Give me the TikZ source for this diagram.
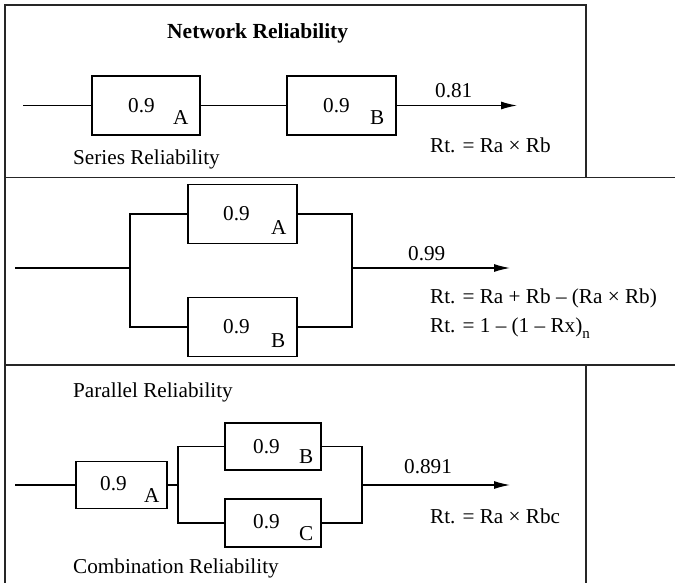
\documentclass[tikz,border=0pt]{standalone}
\usepackage{fontspec}
\setmainfont{Liberation Serif}
\usetikzlibrary{arrows.meta}
\begin{document}
\begin{tikzpicture}[x=1pt,y=-1pt,
  blk/.style={draw, line width=1.2pt, inner sep=0pt},
  txt/.style={font=\fontsize{21.2}{24}\selectfont, inner sep=0pt, anchor=base west},
  ttl/.style={font=\fontsize{21.5}{24}\selectfont\bfseries, inner sep=0pt, anchor=base west},
  wire/.style={line width=1.2pt},
  arr/.style={wire, -{Latex[length=16pt,width=8pt]}},
  frm/.style={line width=1.8pt, draw=black!85}]
\useasboundingbox (0,0) rectangle (675,583);
% frames
\draw[frm] (5,583) -- (5,5) -- (586,5) -- (586,177.5);
\draw[frm] (5,177.5) -- (675,177.5);
\draw[frm] (5,365) -- (675,365);
\draw[frm] (586,365) -- (586,583);

% ---------- Series ----------
\node[ttl] (title) at (167,39) {Network Reliability};
\node[blk, minimum width=108pt, minimum height=59pt] (sA) at (146,105.5) {};
\node[blk, minimum width=109pt, minimum height=59pt] (sB) at (341.5,105.5) {};
\node[txt] (sAv) at (128,113) {0.9};
\node[txt] (sAl) at (173,125) {A};
\node[txt] (sBv) at (323,113) {0.9};
\node[txt] (sBl) at (370,125) {B};
\coordinate (sin) at (23,105.5);
\coordinate (sout) at (517,105.5);
\draw[wire] (sin) -- (sA.west);
\draw[wire] (sA.east) -- (sB.west);
\draw[arr] (sB.east) -- (sout);
\node[txt] (sres) at (435,98) {0.81};
\node[txt] (sf) at (430,153) {Rt. = Ra × Rb};
\node[txt] (sname) at (73,165) {Series Reliability};

% ---------- Parallel ----------
\node[blk, minimum width=109pt, minimum height=59pt] (pA) at (242.5,214) {};
\node[blk, minimum width=109pt, minimum height=59pt] (pB) at (242.5,327) {};
\node[txt] (pAv) at (223,220) {0.9};
\node[txt] (pAl) at (271,234) {A};
\node[txt] (pBv) at (223,333) {0.9};
\node[txt] (pBl) at (271,347) {B};
\coordinate (pin) at (15,268);
\coordinate (pj1) at (130,268);
\coordinate (pj2) at (352,268);
\coordinate (pout) at (510,268);
\draw[wire] (pin) -- (pj1);
\draw[wire] (pA.west) -| (pj1) |- (pB.west);
\draw[wire] (pA.east) -| (pj2) |- (pB.east);
\draw[arr] (pj2) -- (pout);
\node[txt] (pres) at (408,260) {0.99};
\node[txt] (pf1) at (430,303) {Rt. = Ra + Rb – (Ra × Rb)};
\node[txt] (pf2) at (430,332) {Rt. = 1 – (1 – Rx)\raisebox{-0.3em}{\fontsize{15}{17}\selectfont n}};
\node[txt] (pname) at (73,397) {Parallel Reliability};

% ---------- Combination ----------
\node[blk, minimum width=91pt, minimum height=47pt] (cA) at (121.5,485) {};
\node[blk, minimum width=96pt, minimum height=47pt] (cB) at (273,446.5) {};
\node[blk, minimum width=96pt, minimum height=48pt] (cC) at (273,523) {};
\node[txt] (cAv) at (100,490) {0.9};
\node[txt] (cAl) at (144,502) {A};
\node[txt] (cBv) at (253,453) {0.9};
\node[txt] (cBl) at (299,463) {B};
\node[txt] (cCv) at (253,528) {0.9};
\node[txt] (cCl) at (299,540) {C};
\coordinate (cin) at (15,485);
\coordinate (cj1) at (178,485);
\coordinate (cj2) at (362,485);
\coordinate (cout) at (510,485);
\draw[wire] (cin) -- (cA.west);
\draw[wire] (cA.east) -- (cj1);
\draw[wire] (cB.west) -| (cj1) |- (cC.west);
\draw[wire] (cB.east) -| (cj2) |- (cC.east);
\draw[arr] (cj2) -- (cout);
\node[txt] (cres) at (404,473) {0.891};
\node[txt] (cf) at (430,523) {Rt. = Ra × Rbc};
\node[txt] (cname) at (73,573) {Combination Reliability};
\end{tikzpicture}
\end{document}
